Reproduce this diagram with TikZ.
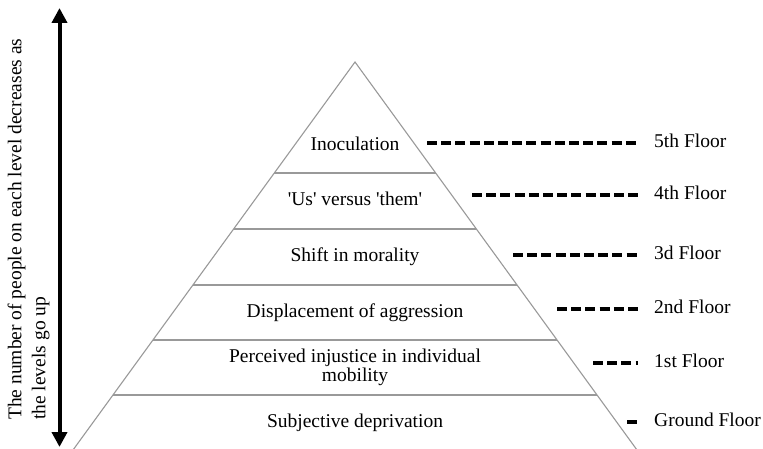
\documentclass[tikz,border=0pt]{standalone}
\usepackage{fontspec}
\setmainfont{Liberation Serif}
\usetikzlibrary{calc, arrows.meta}

\begin{document}
\begin{tikzpicture}[x=1pt, y=1pt,
	level/.style = {draw=black!40, line width=1.1pt},
	layer/.style = {font=\fontsize{19.5}{18.5}\selectfont, align=center, inner sep=0pt, anchor=base},
	floor/.style = {font=\fontsize{19.5}{22}\selectfont, anchor=west, inner sep=0pt, text height=13pt, text depth=4pt},
	guide/.style = {line width=3.2pt, dash pattern=on 10pt off 4.2pt, shorten >=16pt}]
	\useasboundingbox (0, 0) rectangle (763, 448);
	
	\coordinate (apex) at (355, 386);
	\coordinate (bl) at (73, -2);
	\coordinate (br) at (637, -2);
	\draw[level] (bl) -- (apex) -- (br);
	\foreach \y in {275, 219, 163, 108, 53}
		\draw[level] ($(apex)!{(386-\y)/388}!(bl)$) -- ($(apex)!{(386-\y)/388}!(br)$);
	
	\node[layer] (inoc) at (355, 298) {Inoculation};
	\node[layer] (usthem) at (355, 243) {\textquotesingle Us\textquotesingle{} versus \textquotesingle them\textquotesingle};
	\node[layer] (moral) at (355, 187) {Shift in morality};
	\node[layer] (displ) at (355, 131) {Displacement of aggression};
	\node[layer] (injust) at (355, 67) {Perceived injustice in individual\\mobility};
	\node[layer] (depriv) at (355, 21) {Subjective deprivation};
	
	\foreach \i/\s/\y/\t in {5/427/305/5th Floor, 4/472/253/4th Floor, 3/513/193/3d Floor,
			2/557/139/2nd Floor, 1/593/85/1st Floor, 0/627/26/Ground Floor} {
		\node[floor] (f\i) at (654, \y) {\t};
		\coordinate (g\i) at (\s, \y);
		\draw[guide] (g\i) -- (f\i);
	}
	
	\coordinate (up) at (59.5, 440);
	\coordinate (down) at (59.5, 1);
	\draw[{Triangle[width=15pt, length=15pt]}-{Triangle[width=15pt, length=15pt]}, line width=4pt] (down) -- (up);
	\node[rotate=90, anchor=north west, align=left, inner sep=0pt, font=\fontsize{19.5}{24}\selectfont] (note) at (7.5, 28)
		{The number of people on each level decreases as\\the levels go up};
\end{tikzpicture}
\end{document}
